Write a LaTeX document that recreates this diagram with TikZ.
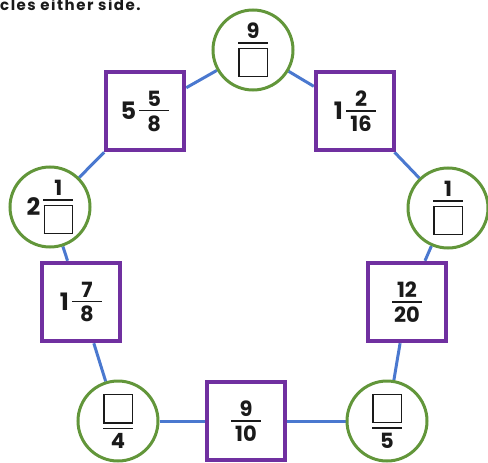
\documentclass[tikz,border=0pt]{standalone}
\usepackage{fontspec}
\setmainfont{Poppins}
\usetikzlibrary{backgrounds}
\definecolor{lnblue}{HTML}{4A78CF}
\definecolor{cgreen}{HTML}{62963A}
\definecolor{spurple}{HTML}{7030A0}
\definecolor{ink}{HTML}{1A1A1A}
\newlength\fw \setlength\fw{30pt}
\newcommand\fr[2]{$\vcenter{\offinterlineskip\halign{\hfil##\hfil\cr #1\cr\noalign{\vskip4pt}\rule{\fw}{1.3pt}\cr\noalign{\vskip4pt}#2\cr}}$}
\newcommand\bx{{\fboxsep0pt\fboxrule1.3pt\fbox{\rule{0pt}{27pt}\hspace*{27pt}}}}
\newcommand\mx[3]{{\fontsize{24}{27}\selectfont\raisebox{-3pt}{#1}}\hspace{3pt}\fr{#2}{#3}}
\begin{document}
\begin{tikzpicture}[x=1pt,y=-1pt,
  circ/.style={circle,draw=cgreen,line width=3pt,fill=white,minimum size=80pt,inner sep=0pt,text=ink,font=\bfseries\fontsize{21}{25}\selectfont},
  sq/.style={rectangle,draw=spurple,line width=4.5pt,fill=white,minimum width=78pt,minimum height=78pt,inner sep=0pt,text=ink,font=\bfseries\fontsize{21}{25}\selectfont},
  conn/.style={draw=lnblue,line width=3pt}]
\useasboundingbox (0,0) rectangle (488,463);
\node[anchor=base west,inner sep=0pt,text=ink,font=\bfseries\fontsize{15}{17}\selectfont\addfontfeature{LetterSpace=10}] (hdr) at (0,10) {cles either side.};
\node[circ] (T) at (253,50) {\fr{9}{\bx}};
\node[circ] (L) at (50,207) {{\fontsize{24}{27}\selectfont\raisebox{-3pt}{2}}\hspace{3pt}\fr{1}{\bx}};
\node[circ] (R) at (448,208) {\fr{1}{\bx}};
\node[circ] (BL) at (118,421) {\fr{\bx}{4}};
\node[circ] (BR) at (387,421) {\fr{\bx}{5}};
\node[sq] (S1) at (145,111) {\mx{5}{5}{8}};
\node[sq] (S2) at (355,111) {\mx{1}{2}{16}};
\node[sq] (S3) at (81,302) {\mx{1}{7}{8}};
\node[sq] (S4) at (407,302) {\fr{12}{20}};
\node[sq] (S5) at (246,421) {\fr{9}{10}};
\begin{scope}[on background layer]
\draw[conn] (T) -- (S1);
\draw[conn] (S1) -- (L);
\draw[conn] (L) -- (S3);
\draw[conn] (S3) -- (BL);
\draw[conn] (BL) -- (S5);
\draw[conn] (S5) -- (BR);
\draw[conn] (BR) -- (S4);
\draw[conn] (S4) -- (R);
\draw[conn] (R) -- (S2);
\draw[conn] (S2) -- (T);
\end{scope}
\end{tikzpicture}
\end{document}
